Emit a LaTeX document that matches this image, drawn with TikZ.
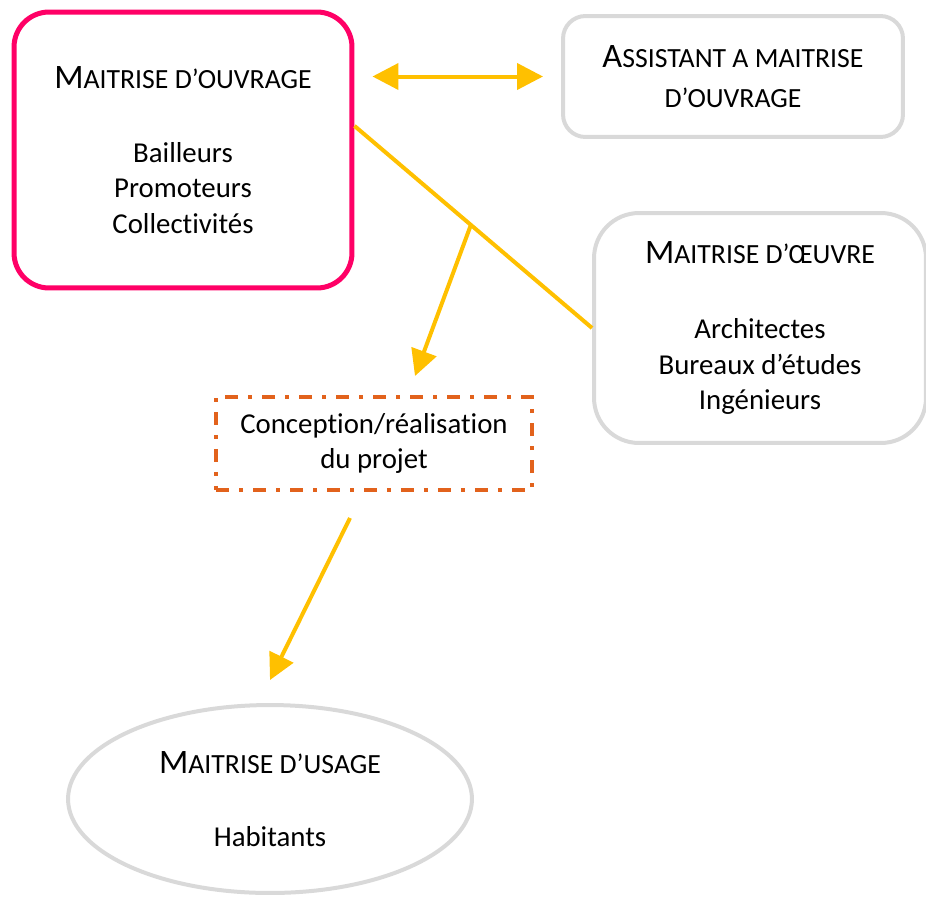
\documentclass[tikz,border=0pt]{standalone}
\usepackage{fontspec}
\setmainfont[Ligatures=NoCommon]{Carlito}
\usetikzlibrary{arrows.meta,shapes.geometric,calc}

\definecolor{rose}{HTML}{FF0066}
\definecolor{gris}{HTML}{D9D9D9}
\definecolor{jaune}{HTML}{FFC000}
\definecolor{brique}{RGB}{226,98,28}

\newcommand\titre[2]{{\fontsize{19.5}{20}\selectfont #1}{\fontsize{15.8}{20}\selectfont #2}}

\begin{document}
\begin{tikzpicture}[x=0.02cm,y=-0.02cm,
  every node/.style={align=center,font=\fontsize{16.4}{20.2}\selectfont},
  boite/.style={draw=gris,line width=0.08cm,rounded corners=#1},
  fleche/.style={draw=jaune,line width=0.08cm,-{Triangle[length=0.52cm,width=0.52cm]}},
  fleches/.style={fleche,{Triangle[length=0.52cm,width=0.52cm]}-{Triangle[length=0.52cm,width=0.52cm]}}]
  \useasboundingbox (0,0) rectangle (926,896);

  \node[boite=0.7cm,draw=rose,line width=0.1cm,minimum width=6.76cm,minimum height=5.52cm] (mo) at (183,150)
    {\titre{M}{AITRISE D’OUVRAGE}\\[21.8pt]Bailleurs\\Promoteurs\\Collectivités};
  \node[boite=0.45cm,minimum width=6.8cm,minimum height=2.42cm] (amo) at (733,76.5)
    {\titre{A}{SSISTANT A MAITRISE}\\[2.5pt]{\fontsize{15.8}{20}\selectfont D’OUVRAGE}};
  \node[boite=0.9cm,minimum width=6.64cm,minimum height=4.6cm] (moe) at (760,328)
    {\titre{M}{AITRISE D’ŒUVRE}\\[22.8pt]Architectes\\Bureaux d’études\\Ingénieurs};
  \node[draw=brique,line width=0.08cm,dash pattern=on 0.26cm off 0.2cm on 0.08cm off 0.2cm,
    minimum width=6.32cm,minimum height=1.86cm] (conc) at (374,443.5)
    {Conception/réalisation\\du projet};
  \node[ellipse,draw=gris,line width=0.08cm,minimum width=8.08cm,minimum height=3.76cm] (usage) at (270,799)
    {\titre{M}{AITRISE D’USAGE}\\[21pt]Habitants};

  \coordinate (j) at ($(mo.8)!0.49!(moe.west)$);

  \draw[fleches,shorten <=0.36cm,shorten >=0.36cm] (mo.east |- amo.west) -- (amo.west);
  \draw[fleche,-] (mo.8) -- (moe.west);
  \draw[fleche] (j) -- ($(conc.north)+(41,-19)$);
  \draw[fleche] ($(conc.south)+(-24,26)$) -- ($(usage.north)+(0,-23)$);

\end{tikzpicture}
\end{document}
